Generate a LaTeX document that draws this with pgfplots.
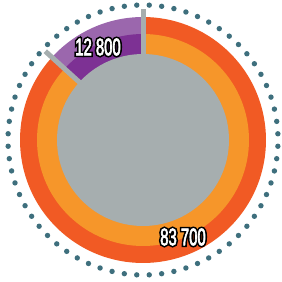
\documentclass[border=0pt]{standalone}
\usepackage{pgfplots}
\pgfplotsset{compat=1.18}
\usepackage{fontspec}
\newfontfamily\lblfont[FakeStretch=0.62,FakeBold=2.5]{Liberation Sans}
\newfontfamily\lblfontO[FakeStretch=0.62,FakeBold=16]{Liberation Sans}
\definecolor{cRed}{HTML}{F15A24}
\definecolor{cOrange}{HTML}{F6962A}
\definecolor{cGrey}{HTML}{A6AEAF}
\definecolor{cPurpD}{HTML}{7D3194}
\definecolor{cPurpL}{HTML}{9B67AD}
\definecolor{cTeal}{HTML}{3E6F7D}
\newcommand{\sector}[5]{%
  \fill[#1] (axis cs:{#5*cos(#2)},{#5*sin(#2)}) arc[start angle=#2,end angle=#3,radius=#5]
    -- (axis cs:{#4*cos(#3)},{#4*sin(#3)}) arc[start angle=#3,end angle=#2,radius=#4] -- cycle;}
\newcommand{\olabel}[2]{%
  \node[text=black,inner sep=0pt] at (#1) {\lblfontO\fontsize{24}{24}\selectfont #2};
  \node[text=white,inner sep=0pt] at (#1) {\lblfont\fontsize{24}{24}\selectfont #2};}
\begin{document}
\begin{tikzpicture}
% values in thousands: 12 800 and 83 700
\def\va{12.8}\def\vb{83.7}
\pgfmathsetmacro{\fr}{\va/(\va+\vb)}
\pgfmathsetmacro{\eA}{90+360*\fr}
\begin{axis}[scale only axis, width=282pt, height=282pt,
  xmin=-143, xmax=139, ymin=-142, ymax=140, hide axis, clip=false]
\pgfplotsinvokeforeach{0,...,67}{
  \fill[cTeal] (axis cs:{135*cos(90+2.647+#1*360/68)},{135*sin(90+2.647+#1*360/68)}) circle[radius=2.7];
}
\sector{cRed}{\eA}{450}{105}{123}
\sector{cOrange}{\eA}{450}{85}{106}
\sector{cPurpL}{90}{\eA}{105}{123}
\sector{cPurpD}{90}{\eA}{85}{106}
\fill[cGrey] (axis cs:0,0) circle[radius=86];
\draw[cGrey, line width=5pt] (axis cs:0,0) -- (axis cs:{131*cos(90)},{131*sin(90)});
\draw[cGrey, line width=5pt] (axis cs:0,0) -- (axis cs:{132*cos(\eA)},{132*sin(\eA)});
\coordinate (L1) at (axis cs:-45,93);
\coordinate (L2) at (axis cs:40,-97);
\end{axis}
\olabel{L1}{12 800}
\olabel{L2}{83 700}
\pgfresetboundingbox
\useasboundingbox (current axis.south west) rectangle (current axis.north east);
\end{tikzpicture}
\end{document}
